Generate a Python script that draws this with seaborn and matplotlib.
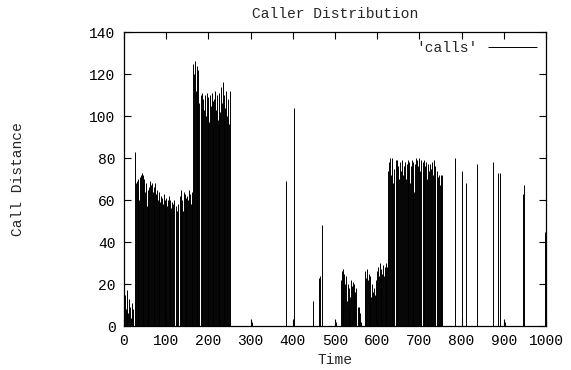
import matplotlib
matplotlib.use("Agg")
import matplotlib.pyplot as plt
import numpy as np
import pandas as pd
import seaborn as sns

# dense runs of calls: first time stamp, then one height every 2 time units (0 = no call)
run_starts = [0, 28, 124, 132, 164, 182, 514, 626]
run_heights = [
    [18, 15, 8, 17, 12, 6, 13, 9, 4, 11, 7, 8],
    [68, 69, 64, 70, 60, 71, 72, 73, 71, 72, 70, 64, 68, 57, 65, 62, 66, 69, 67, 68,
     64, 66, 62, 68, 63, 65, 60, 62, 64, 59, 62, 61, 58, 63, 60, 59, 61, 57, 60, 62,
     58, 60, 56, 59, 58, 60],
    [57, 55, 58],
    [62, 58, 65, 60, 55, 64, 63, 61, 57, 62, 60, 65, 63, 58, 64, 62],
    [125, 120, 126, 112, 124, 110, 122, 106],
    [110, 104, 111, 108, 103, 110, 100, 111, 106, 109, 97, 110, 105, 111, 107, 95,
     108, 112, 103, 110, 98, 111, 109, 102, 114, 106, 116, 99, 110, 104, 112, 100,
     108, 96, 112],
    [22, 26, 24, 27, 25, 20, 24, 12, 20, 8, 18, 14, 22, 19, 21, 15, 20, 16, 18, 0,
     9, 8, 9, 6, 2, 0, 0, 0, 20, 26, 23, 27, 22, 25, 17, 24, 14, 20, 16, 18, 15, 14,
     22, 26, 28, 24, 30, 27, 22, 25, 29, 24, 28, 26, 30, 28],
    [74, 78, 80, 72, 77, 80, 68, 75, 0, 79, 73, 79, 76, 70, 78, 74, 79, 72, 0, 76,
     78, 70, 77, 79, 74, 78, 68, 76, 79, 72, 78, 64, 77, 80, 79, 76, 80, 78, 74, 79,
     0, 78, 72, 79, 76, 78, 70, 77, 74, 0, 77, 75, 78, 72, 79, 70, 76, 0, 74, 71,
     72, 67, 72, 68, 72],
]

# isolated calls
single_times = [26, 303, 383, 400, 402, 447, 463, 465, 470, 503, 784, 802, 810,
                836, 875, 886, 891, 903, 946, 948, 998, 1000]
single_heights = [83, 2, 69, 2, 104, 12, 23, 24, 48, 2, 80, 74, 68,
                  77, 78, 73, 73, 2, 63, 67, 45, 44]

x_ticks = [0, 100, 200, 300, 400, 500, 600, 700, 800, 900, 1000]
y_ticks = [0, 20, 40, 60, 80, 100, 120, 140]

rows = []
for start, heights in zip(run_starts, run_heights):
    for i, h in enumerate(heights):
        if h > 0:
            rows.append((start + 2 * i, h))
rows += list(zip(single_times, single_heights))
df = pd.DataFrame(rows, columns=["time", "distance"]).sort_values("time")

sns.set_style("ticks")
plt.rcParams["font.family"] = ["Liberation Mono", "DejaVu Sans Mono"]
plt.rcParams["font.size"] = 10.5

fig = plt.figure(figsize=(5.71, 3.70), dpi=100)
ax = fig.add_axes([124 / 571, 1 - 326 / 370, 422 / 571, 294 / 370])

ax.vlines(df["time"], 0, df["distance"], color="black", linewidth=0.7, label="'calls'")

ax.set_xlim(0, 1000)
ax.set_ylim(0, 140)
ax.set_xticks(x_ticks)
ax.set_yticks(y_ticks)
ax.tick_params(direction="in", length=5, width=0.8, top=True, right=True,
               labelsize=10.5, colors="black", pad=6)
for s in ax.spines.values():
    s.set_linewidth(0.9)
    s.set_color("black")

ax.set_title("Caller Distribution", fontsize=10.5, pad=10)
ax.set_xlabel("Time", fontsize=10.5, labelpad=3)
ax.set_ylabel("Call Distance", fontsize=10.5)
ax.yaxis.set_label_coords(-0.235, 0.5)

ax.legend(loc="upper right", frameon=False, markerfirst=False, handlelength=3.4,
          handletextpad=0.7, fontsize=10.5, borderaxespad=0.2)

fig.savefig("out.png", dpi=100)
